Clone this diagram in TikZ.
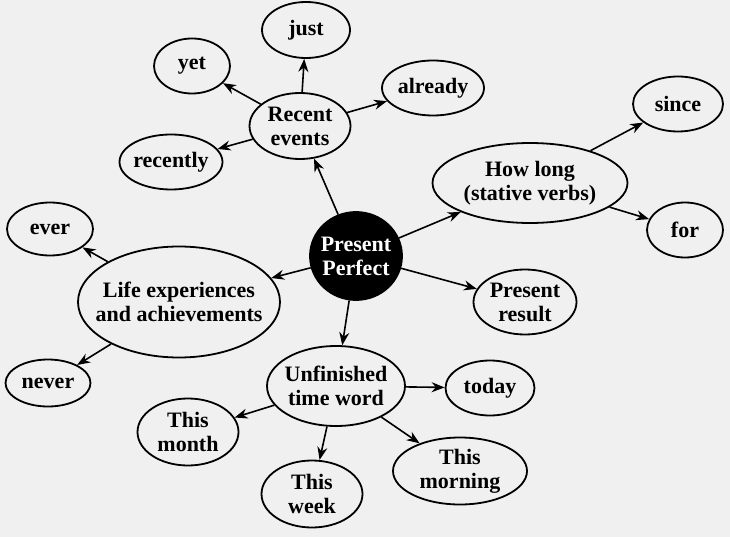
\documentclass[tikz,border=0pt]{standalone}
\usepackage{fontspec}
\setmainfont{Liberation Serif}
\usetikzlibrary{shapes.geometric,arrows.meta}
\begin{document}
\begin{tikzpicture}[x=1pt,y=-1pt,
	bubble/.style={ellipse,draw,line width=1.8pt,inner xsep=-20pt,inner ysep=-8pt,align=center,font=\bfseries\fontsize{22}{24}\selectfont},
	link/.style={line width=1.6pt,-{Stealth[length=13pt,width=10pt]}}]
			%paper
			\fill[gray!12] (0,0) rectangle (730,537);
			\useasboundingbox (0,0) rectangle (730,537);
			%centre
			\node[bubble,fill=black,text=white,minimum width=92pt,minimum height=88pt] (pp) at (356,256) {Present\\Perfect};
			%recent events
			\node[bubble,minimum width=101pt,minimum height=66pt] (recent) at (300,126) {Recent\\events};
			\node[bubble,minimum width=88pt,minimum height=56pt] (just) at (306,30) {just};
			\node[bubble,minimum width=76pt,minimum height=55pt] (yet) at (192,66) {yet};
			\node[bubble,minimum width=103pt,minimum height=55pt] (recently) at (171,162) {recently};
			\node[bubble,minimum width=102pt,minimum height=55pt] (already) at (433,88) {already};
			%how long
			\node[bubble,minimum width=195pt,minimum height=80pt] (howlong) at (530,183) {How long\\(stative verbs)};
			\node[bubble,minimum width=90pt,minimum height=55pt] (since) at (678,104) {since};
			\node[bubble,minimum width=76pt,minimum height=55pt] (for) at (685,230) {for};
			%life experiences
			\node[bubble,minimum width=202pt,minimum height=111pt] (life) at (179,302) {Life experiences\\and achievements};
			\node[bubble,minimum width=86pt,minimum height=53pt] (ever) at (50,229) {ever};
			\node[bubble,minimum width=85pt,minimum height=47pt] (never) at (48,383) {never};
			%present result
			\node[bubble,minimum width=103pt,minimum height=65pt] (result) at (525,302) {Present\\result};
			%unfinished time word
			\node[bubble,minimum width=138pt,minimum height=80pt] (unfinished) at (336,386) {Unfinished\\time word};
			\node[bubble,minimum width=89pt,minimum height=55pt] (today) at (490,388) {today};
			\node[bubble,minimum width=101pt,minimum height=67pt] (month) at (188,432) {This\\month};
			\node[bubble,minimum width=101pt,minimum height=67pt] (week) at (312,494) {This\\week};
			\node[bubble,minimum width=134pt,minimum height=67pt] (morning) at (460,471) {This\\morning};
			% arrows
			\foreach \x in {recent,howlong,life,result,unfinished}
				\draw[link] (pp) -- (\x);
			\foreach \x in {just,yet,recently,already}
				\draw[link] (recent) -- (\x);
			\foreach \x in {since,for}
				\draw[link] (howlong) -- (\x);
			\foreach \x in {ever,never}
				\draw[link] (life) -- (\x);
			\foreach \x in {today,month,week,morning}
				\draw[link] (unfinished) -- (\x);
		\end{tikzpicture}
\end{document}
